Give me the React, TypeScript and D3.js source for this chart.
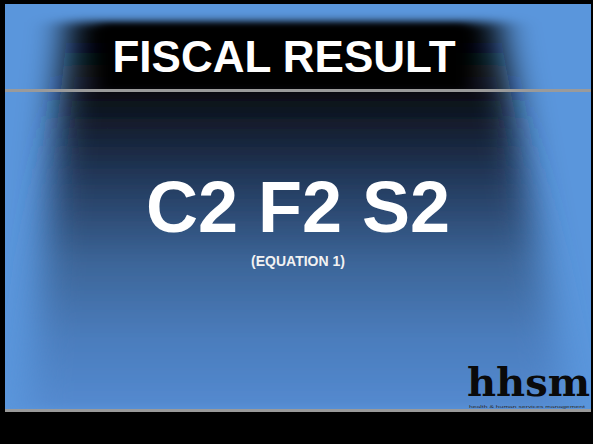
import React from "react";
import * as d3 from "d3";

const W = 593;
const H = 444;

const titleText = ["FISCAL RESULT"];
const headlineText = ["C2 F2 S2"];
const subText = ["(EQUATION 1)"];
const logoText = ["hhsm"];
const taglineText = ["health & human services management"];

// room gradient stops: [offset, color]
const roomStops: [number, string][] = [
  [0, "#000000"],
  [0.2, "#0c1119"],
  [0.4, "#22385a"],
  [0.62, "#3c6598"],
  [0.82, "#4b7dbd"],
  [1, "#548ad0"],
];

export default function App() {
  const x = d3.scaleLinear().domain([0, 1]).range([5, 591]);
  const y = d3.scaleLinear().domain([0, 1]).range([4, 409]);

  const room = d3.line()([
    [68, 22],
    [498, 22],
    [568, 409],
    [28, 409],
  ]) + "Z";

  return (
    <svg
      width={W}
      height={H}
      style={{ position: "fixed", left: 0, top: 0, display: "block" }}
    >
      <defs>
        <linearGradient id="roomGrad" x1="0" y1="22" x2="0" y2="409" gradientUnits="userSpaceOnUse">
          {roomStops.map(([o, c], i) => (
            <stop key={i} offset={o} stopColor={c} />
          ))}
        </linearGradient>
        <filter id="blurRoom" filterUnits="userSpaceOnUse" x={-50} y={-50} width={W + 100} height={H + 100}>
          <feGaussianBlur stdDeviation="18 5" />
        </filter>
        <filter id="blurBand" filterUnits="userSpaceOnUse" x={-50} y={-50} width={W + 100} height={H + 100}>
          <feGaussianBlur stdDeviation="7 3" />
        </filter>
        <clipPath id="slideClip">
          <rect x={x(0)} y={y(0)} width={x(1) - x(0)} height={y(1) - y(0)} />
        </clipPath>
      </defs>

      <rect x={0} y={0} width={W} height={H} fill="#000" />

      <g clipPath="url(#slideClip)">
        <rect x={x(0)} y={y(0)} width={x(1) - x(0)} height={y(1) - y(0)} fill="#5a96dc" />
        <path d={room} fill="url(#roomGrad)" filter="url(#blurRoom)" />
        <rect x={100} y={25} width={368} height={65} fill="#000" filter="url(#blurBand)" />
      </g>

      {/* separator lines */}
      <rect x={x(0)} y={89} width={x(1) - x(0)} height={3} fill="#9a9a9a" />
      <rect x={x(0)} y={409} width={x(1) - x(0)} height={3} fill="#9a9a9a" />

      {titleText.map((t, i) => (
        <text
          key={i}
          x={284}
          y={72}
          textAnchor="middle"
          fill="#fff"
          fontFamily="'Liberation Sans', Arial, sans-serif"
          fontWeight="bold"
          fontSize={44}
        >
          {t}
        </text>
      ))}

      {headlineText.map((t, i) => (
        <text
          key={i}
          x={298}
          y={232}
          textAnchor="middle"
          fill="#fff"
          fontFamily="'Liberation Sans', Arial, sans-serif"
          fontWeight="bold"
          fontSize={72}
        >
          {t}
        </text>
      ))}

      {subText.map((t, i) => (
        <text
          key={i}
          x={298}
          y={266}
          textAnchor="middle"
          fill="#f2f2f2"
          fontFamily="'Liberation Sans', Arial, sans-serif"
          fontWeight="bold"
          fontSize={14}
        >
          {t}
        </text>
      ))}

      {logoText.map((t, i) => (
        <text
          key={i}
          x={467}
          y={396}
          fill="#0a0a0a"
          fontFamily="'DejaVu Serif', serif"
          fontWeight="bold"
          fontSize={40}
        >
          {t}
        </text>
      ))}
      {taglineText.map((t, i) => (
        <text
          key={i}
          x={469}
          y={408}
          fill="#2a2a2a"
          fontFamily="'Liberation Sans', Arial, sans-serif"
          fontSize={4}
          textLength={116}
          lengthAdjust="spacingAndGlyphs"
        >
          {t}
        </text>
      ))}
    </svg>
  );
}
